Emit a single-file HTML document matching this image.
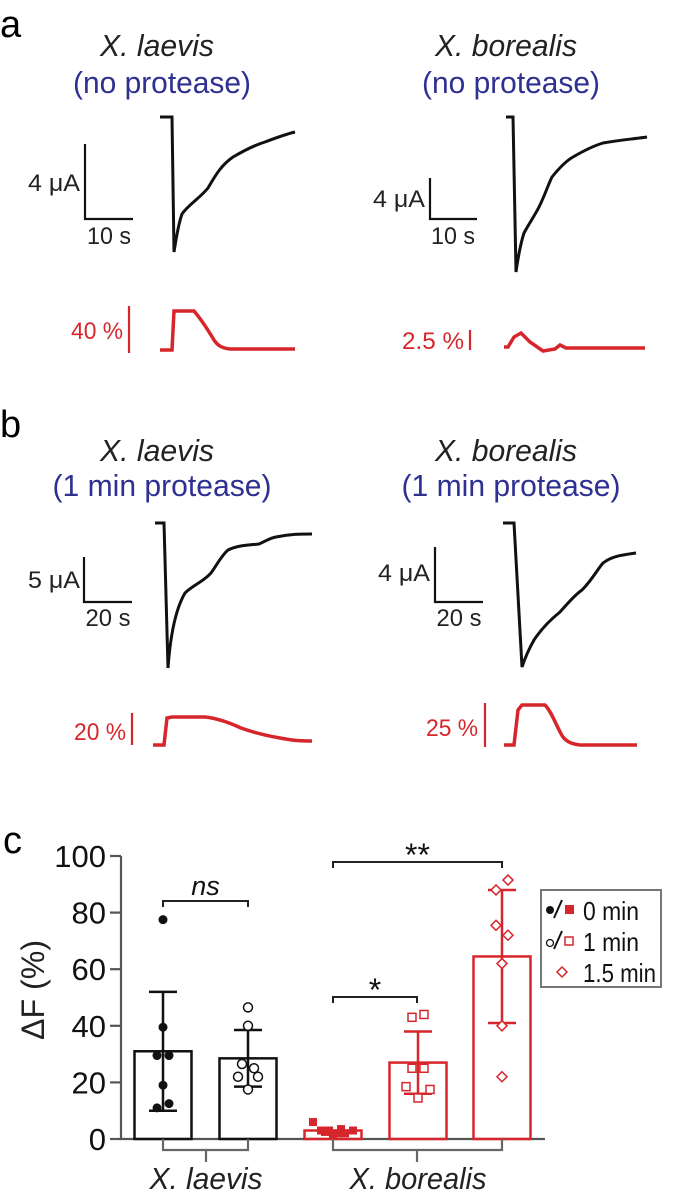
<!DOCTYPE html>
<html><head><meta charset="utf-8"><style>
html,body{margin:0;padding:0;background:#fff}
svg{display:block;font-family:"Liberation Sans",sans-serif}
</style></head><body>
<svg id="fig" width="675" height="1196" viewBox="0 0 675 1196">
<!-- Panel a -->
<g>
<text x="0" y="37" font-size="38">a</text>
<text x="157" y="56" font-size="31" font-style="italic" fill="#222" text-anchor="middle" textLength="114" lengthAdjust="spacingAndGlyphs">X. laevis</text>
<text x="162" y="93" font-size="31" fill="#2e3192" text-anchor="middle" textLength="178" lengthAdjust="spacingAndGlyphs">(no protease)</text>
<text x="506" y="56" font-size="31" font-style="italic" fill="#222" text-anchor="middle" textLength="142" lengthAdjust="spacingAndGlyphs">X. borealis</text>
<text x="511" y="93" font-size="31" fill="#2e3192" text-anchor="middle" textLength="178" lengthAdjust="spacingAndGlyphs">(no protease)</text>
<path d="M85 144V219H133" fill="none" stroke="#111" stroke-width="2.2"/>
<text x="80" y="191" font-size="24" fill="#222" text-anchor="end" textLength="52" lengthAdjust="spacingAndGlyphs">4 μA</text>
<text x="109" y="244" font-size="24" fill="#222" text-anchor="middle" textLength="44" lengthAdjust="spacingAndGlyphs">10 s</text>
<path d="M160 117H172L174 252C176 240 178 225 182 214C188 205 200 198 208 188C214 178 220 166 233 157C245 150 255 145 265 142C278 137 287 134 295 132" fill="none" stroke="#111" stroke-width="3"/>
<path d="M430 178V219H477" fill="none" stroke="#111" stroke-width="2.2"/>
<text x="425" y="207" font-size="24" fill="#222" text-anchor="end" textLength="52" lengthAdjust="spacingAndGlyphs">4 μA</text>
<text x="453" y="244" font-size="24" fill="#222" text-anchor="middle" textLength="44" lengthAdjust="spacingAndGlyphs">10 s</text>
<path d="M506 117H513L516 272C518 258 520 245 524 233C530 222 535 215 539 207C545 195 548 185 552 177C560 167 566 161 573 157C585 150 593 146 603 143C620 140 633 139 647 137" fill="none" stroke="#111" stroke-width="3"/>
<path d="M129 306V353" stroke="#d7262b" stroke-width="2.2"/>
<text x="123" y="339" font-size="24" fill="#d7262b" text-anchor="end" textLength="52" lengthAdjust="spacingAndGlyphs">40 %</text>
<path d="M160 350H172L174 311H194C200 318 208 330 214 340C218 346 222 348 230 349H295" fill="none" stroke="#d7262b" stroke-width="3.5"/>
<path d="M470 330V350" stroke="#d7262b" stroke-width="2.2"/>
<text x="464" y="349" font-size="24" fill="#d7262b" text-anchor="end" textLength="62" lengthAdjust="spacingAndGlyphs">2.5 %</text>
<path d="M504 347H508L514 337L521 333L530 342L543 351L555 349L560 345L566 348L600 348H645" fill="none" stroke="#d7262b" stroke-width="3.5"/>
</g>
<!-- Panel b -->
<g>
<text x="0" y="437" font-size="38">b</text>
<text x="157" y="461" font-size="31" font-style="italic" fill="#222" text-anchor="middle" textLength="114" lengthAdjust="spacingAndGlyphs">X. laevis</text>
<text x="162" y="496" font-size="31" fill="#2e3192" text-anchor="middle" textLength="219" lengthAdjust="spacingAndGlyphs">(1 min protease)</text>
<text x="506" y="461" font-size="31" font-style="italic" fill="#222" text-anchor="middle" textLength="142" lengthAdjust="spacingAndGlyphs">X. borealis</text>
<text x="511" y="496" font-size="31" fill="#2e3192" text-anchor="middle" textLength="219" lengthAdjust="spacingAndGlyphs">(1 min protease)</text>
<path d="M84 557V602H132" fill="none" stroke="#111" stroke-width="2.2"/>
<text x="80" y="588" font-size="24" fill="#222" text-anchor="end" textLength="52" lengthAdjust="spacingAndGlyphs">5 μA</text>
<text x="108" y="626" font-size="24" fill="#222" text-anchor="middle" textLength="45" lengthAdjust="spacingAndGlyphs">20 s</text>
<path d="M155 523H164L168 668C170 640 175 610 185 593C193 585 203 582 211 573C218 563 222 555 228 550C238 545 250 545 259 544C266 541 270 538 276 537C290 534 300 534 312 534" fill="none" stroke="#111" stroke-width="3"/>
<path d="M435 547V602H483" fill="none" stroke="#111" stroke-width="2.2"/>
<text x="430" y="581" font-size="24" fill="#222" text-anchor="end" textLength="52" lengthAdjust="spacingAndGlyphs">4 μA</text>
<text x="459" y="626" font-size="24" fill="#222" text-anchor="middle" textLength="45" lengthAdjust="spacingAndGlyphs">20 s</text>
<path d="M503 523H514L522 667C526 655 530 647 534 640C542 628 550 620 560 612C568 603 575 595 582 590C592 580 597 570 603 563C612 556 622 555 636 553" fill="none" stroke="#111" stroke-width="3"/>
<path d="M132 713V745" stroke="#d7262b" stroke-width="2.2"/>
<text x="126" y="740" font-size="24" fill="#d7262b" text-anchor="end" textLength="52" lengthAdjust="spacingAndGlyphs">20 %</text>
<path d="M153 745H164L167 718L172 717H205C215 718 228 722 241 728C255 733 268 736 280 738C295 741 303 741 312 741" fill="none" stroke="#d7262b" stroke-width="3.5"/>
<path d="M485 703V747" stroke="#d7262b" stroke-width="2.2"/>
<text x="478" y="736" font-size="24" fill="#d7262b" text-anchor="end" textLength="52" lengthAdjust="spacingAndGlyphs">25 %</text>
<path d="M504 745H514L518 710L522 705H545C552 712 558 730 563 737C567 742 572 744 580 745H637" fill="none" stroke="#d7262b" stroke-width="3.5"/>
</g>
<!-- Panel c -->
<g id="panelc">
<text x="3" y="853" font-size="38">c</text>
<text transform="translate(44 990) rotate(-90)" font-size="32" fill="#222" text-anchor="middle" textLength="100" lengthAdjust="spacingAndGlyphs">ΔF (%)</text>
</g>
</svg>
<script>
const categories = ["laevis-0", "laevis-1", "borealis-0", "borealis-1", "borealis-1.5"];
const barMeans = [31, 28.5, 3, 27, 64.5];
const errLow = [10, 18.5, 2, 16, 41];
const errHigh = [52, 38.5, 4, 38, 88];
const pts0 = [77.5, 39.5, 29.5, 29.5, 19, 12.5, 11];
const pts1 = [46.5, 40, 26.5, 25, 22, 22, 17.5];
const ptsB0 = [6, 3, 3, 2, 2, 3, 1.5, 3.5, 2.5];
const ptsB1 = [43, 44, 25, 25, 18.5, 17.5, 14.5];
const ptsB15 = [91.5, 88, 75.5, 72, 62, 40, 22];
const yTicks = [0, 20, 40, 60, 80, 100];

const NS = "http://www.w3.org/2000/svg";
const g = document.getElementById("panelc");
const y0 = 1139, y100 = 856;
const ys = v => y0 - (y0 - y100) * v / 100;
const barCenters = [163, 248, 333, 418, 502];
const bw = 57;
const RED = "#d7262b";
function mk(tag, attrs) {
  const e = document.createElementNS(NS, tag);
  for (const k in attrs) e.setAttribute(k, attrs[k]);
  g.appendChild(e);
  return e;
}
let ax = mk("path", {d: `M121 ${y100}V${y0}H545`, fill: "none", stroke: "#555", "stroke-width": 2.2});


yTicks.forEach(t => {
  const tk = mk("line", {x1: 110, x2: 121, y1: ys(t), y2: ys(t), stroke: "#555", "stroke-width": 2.2});
  
  
  const lb = mk("text", {x: 106, y: ys(t) + 11, "font-size": 31, "text-anchor": "end", fill: "#111"});
  lb.textContent = t;
  
  
});
categories.forEach((c, i) => {
  const col = i < 2 ? "#111" : RED;
  const cx = barCenters[i];
  const r = mk("rect", {x: cx - bw / 2, y: ys(barMeans[i]), width: bw, height: y0 - ys(barMeans[i]), fill: "none", stroke: col, "stroke-width": 2.5});
  
  
  if (i !== 2) {
    const e = mk("path", {d: `M${cx} ${ys(errLow[i])}V${ys(errHigh[i])}M${cx - 14} ${ys(errLow[i])}H${cx + 14}M${cx - 14} ${ys(errHigh[i])}H${cx + 14}`, fill: "none", stroke: col, "stroke-width": 2.5});
    
    
  }
});
function dot(cx, v, kind, name) {
  let e;
  const cy = ys(v);
  if (kind === "fc") e = mk("circle", {cx, cy, r: 4.5, fill: "#111"});
  else if (kind === "oc") e = mk("circle", {cx, cy, r: 4.5, fill: "#fff", stroke: "#111", "stroke-width": 1.5});
  else if (kind === "fs") e = mk("rect", {x: cx - 4, y: cy - 4, width: 8, height: 8, fill: RED});
  else if (kind === "os") e = mk("rect", {x: cx - 4, y: cy - 4, width: 8, height: 8, fill: "#fff", stroke: RED, "stroke-width": 1.5});
  else e = mk("path", {d: `M${cx} ${cy - 5}L${cx + 5} ${cy}L${cx} ${cy + 5}L${cx - 5} ${cy}Z`, fill: "#fff", stroke: RED, "stroke-width": 1.5});
  
  
}
const off0 = [0, 0, -6, 6, 0, 6, -6];
pts0.forEach((v, j) => dot(163 + off0[j], v, "fc", "point-laevis-0"));
const off1 = [0, 0, -6, 6, 10, -10, 0];
pts1.forEach((v, j) => dot(248 + off1[j], v, "oc", "point-laevis-1"));
const offB0 = [-20, -12, -4, 4, 12, 20, 0, 8, -8];
ptsB0.forEach((v, j) => dot(333 + offB0[j], v, "fs", "point-borealis-0"));
const offB1 = [-6, 6, -6, 6, -12, 12, 0];
ptsB1.forEach((v, j) => dot(418 + offB1[j], v, "os", "point-borealis-1"));
const offB15 = [6, -6, -6, 6, 0, 0, 0];
ptsB15.forEach((v, j) => dot(502 + offB15[j], v, "od", "point-borealis-1.5"));
const gb1 = mk("path", {d: `M163 ${y0}V1150H248V${y0}M206 1150V1162`, fill: "none", stroke: "#666", "stroke-width": 2.2});


const gb2 = mk("path", {d: `M333 ${y0}V1150H502V${y0}M417 1150V1162`, fill: "none", stroke: "#666", "stroke-width": 2.2});


const xl1 = mk("text", {x: 206, y: 1189, "font-size": 31, "font-style": "italic", "text-anchor": "middle", fill: "#222", textLength: 113, lengthAdjust: "spacingAndGlyphs"});
xl1.textContent = "X. laevis";


const xl2 = mk("text", {x: 418, y: 1189, "font-size": 31, "font-style": "italic", "text-anchor": "middle", fill: "#222", textLength: 137, lengthAdjust: "spacingAndGlyphs"});
xl2.textContent = "X. borealis";


function sig(x1, x2, y, txt, italic, name) {
  const p = mk("path", {d: `M${x1} ${y + 6}V${y}H${x2}V${y + 6}`, fill: "none", stroke: "#222", "stroke-width": 2});
  
  
  const t = mk("text", {x: (x1 + x2) / 2, y: italic ? y - 6 : y + 4, "font-size": italic ? 27 : 32, "font-style": italic ? "italic" : "normal", "text-anchor": "middle", fill: "#111"});
  t.textContent = txt;
  
  
}
sig(163, 248, 901, "ns", true, "sig-ns");
sig(333, 502, 862, "**", false, "sig-double");
sig(333, 417, 997, "*", false, "sig-single");
const lg = mk("rect", {x: 541, y: 890, width: 120, height: 97, fill: "#fff", stroke: "#777", "stroke-width": 2});


const rows = [["0 min", 910], ["1 min", 941], ["1.5 min", 972]];
rows.forEach((r, i) => {
  const t = mk("text", {x: 583, y: r[1] + 10, "font-size": 26, fill: "#111", textLength: i === 2 ? 73 : 56, lengthAdjust: "spacingAndGlyphs"});
  t.textContent = r[0];
  
  
});
const lm = [
  mk("circle", {cx: 550, cy: 910, r: 4, fill: "#111"}),
  mk("path", {d: "M554 918L562 900", stroke: "#111", "stroke-width": 2}),
  mk("rect", {x: 565, y: 905, width: 9, height: 9, fill: RED}),
  mk("circle", {cx: 550, cy: 943, r: 3.5, fill: "#fff", stroke: "#111", "stroke-width": 1.3}),
  mk("path", {d: "M554 949L562 931", stroke: "#111", "stroke-width": 2}),
  mk("rect", {x: 565, y: 937, width: 8, height: 8, fill: "#fff", stroke: RED, "stroke-width": 1.5}),
  mk("path", {d: "M562 967L567 972L562 977L557 972Z", fill: "#fff", stroke: RED, "stroke-width": 1.5})
];
lm.forEach(e => {
  
  
});
</script>
</body></html>
